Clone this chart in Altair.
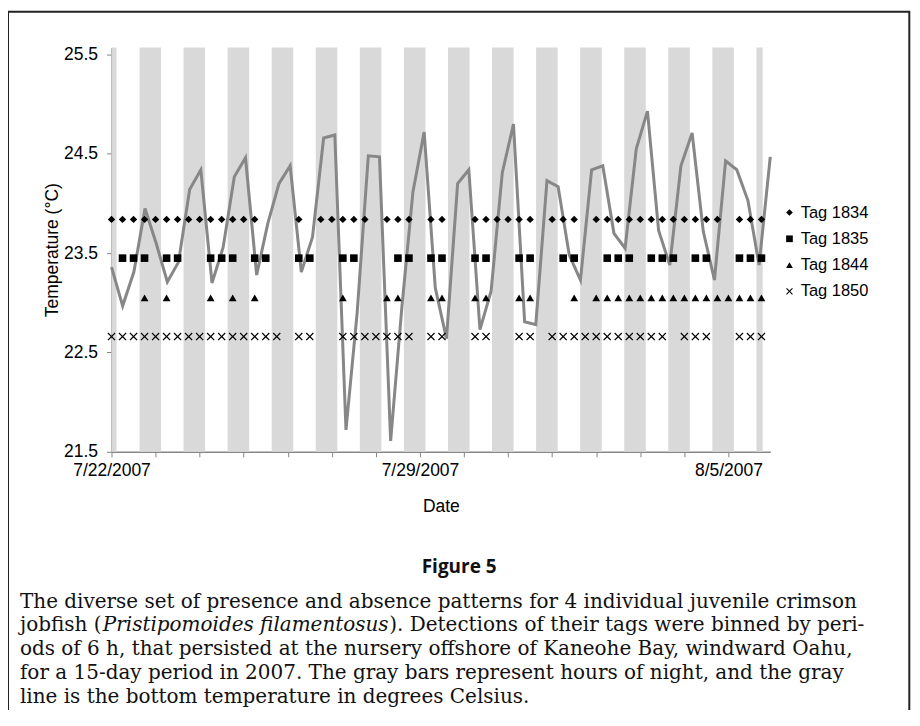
import altair as alt
import pandas as pd

# ---------------- data ----------------
window_start = "2007-07-22 00:00"
window_end = "2007-08-05 22:48"

# bottom temperature (°C), 60 readings spread evenly across the window
temp_values = [23.36, 22.97, 23.31, 23.95, 23.60, 23.21, 23.41, 24.14, 24.34, 23.20,
               23.56, 24.27, 24.46, 23.28, 23.80, 24.20, 24.38, 23.31, 23.66, 24.66,
               24.69, 21.72, 22.90, 24.48, 24.47, 21.61, 22.95, 24.12, 24.72, 23.15,
               22.64, 24.20, 24.34, 22.73, 23.12, 24.31, 24.80, 22.81, 22.78, 24.23,
               24.17, 23.48, 23.23, 24.34, 24.38, 23.70, 23.55, 24.55, 24.93, 23.73,
               23.38, 24.38, 24.71, 23.72, 23.23, 24.43, 24.34, 24.03, 23.38, 24.47]

# night periods (gray bars)
night_start = ["2007-07-22 00:00", "2007-07-22 15:15", "2007-07-23 15:15", "2007-07-24 15:15",
               "2007-07-25 15:15", "2007-07-26 15:15", "2007-07-27 15:15", "2007-07-28 15:15",
               "2007-07-29 15:15", "2007-07-30 15:15", "2007-07-31 15:15", "2007-08-01 15:15",
               "2007-08-02 15:15", "2007-08-03 15:15", "2007-08-04 15:15", "2007-08-05 15:15"]
night_end = ["2007-07-22 02:45", "2007-07-23 03:00", "2007-07-24 03:00", "2007-07-25 03:00",
             "2007-07-26 03:00", "2007-07-27 03:00", "2007-07-28 03:00", "2007-07-29 03:00",
             "2007-07-30 03:00", "2007-07-31 03:00", "2007-08-01 03:00", "2007-08-02 03:00",
             "2007-08-03 03:00", "2007-08-04 03:00", "2007-08-05 03:00", "2007-08-05 18:40"]

# 6-h detection bins (index of bin since 7/22 00:00) for each tag
tags = ["Tag 1834", "Tag 1835", "Tag 1844", "Tag 1850"]
tag_levels = [23.84, 23.45, 23.05, 22.66]
detect_1834 = [0, 1, 2, 3, 4, 5, 6, 7, 8, 9, 10, 11, 12, 13, 17, 19, 20, 21, 22, 23,
               25, 26, 27, 29, 30, 33, 34, 35, 36, 37, 38, 40, 41, 42, 44, 45, 46, 47,
               48, 49, 50, 51, 52, 53, 54, 55, 57, 58, 59]
detect_1835 = [1, 2, 3, 5, 6, 9, 10, 11, 13, 14, 17, 18, 21, 22, 26, 27, 29, 30, 33, 34,
               37, 38, 41, 42, 45, 46, 47, 49, 50, 51, 53, 54, 57, 58, 59]
detect_1844 = [3, 5, 9, 11, 13, 21, 25, 26, 29, 30, 33, 34, 37, 38, 42, 44, 45, 46, 47,
               48, 49, 50, 51, 52, 53, 54, 55, 56, 57, 58, 59]
detect_1850 = [0, 1, 2, 3, 4, 5, 6, 7, 8, 9, 10, 11, 12, 13, 14, 15, 17, 18, 21, 22, 23,
               24, 25, 26, 27, 29, 30, 33, 34, 37, 38, 40, 41, 42, 43, 44, 45, 46, 47,
               48, 49, 50, 52, 53, 54, 57, 58, 59]

y_ticks = [21.5, 22.5, 23.5, 24.5, 25.5]
x_labels = ["7/22/2007", "7/29/2007", "8/5/2007"]

fig_title = "Figure 5"
caption_lines = [
    "The diverse set of presence and absence patterns for 4 individual juvenile crimson",
    None,
    "ods of 6 h, that persisted at the nursery offshore of Kaneohe Bay, windward Oahu,",
    "for a 15-day period in 2007. The gray bars represent hours of night, and the gray",
    "line is the bottom temperature in degrees Celsius.",
]
caption_l2 = ["jobfish (", "Pristipomoides filamentosus", ").  Detections of their tags were binned by peri-"]

# ---------------- tables ----------------
bins = pd.date_range(window_start, periods=60, freq="6h")
rows = []
for tag, level, idx in zip(tags, tag_levels, [detect_1834, detect_1835, detect_1844, detect_1850]):
    for i in idx:
        rows.append({"time": bins[i], "temp": level, "tag": tag})
marker_df = pd.DataFrame(rows)
line_df = pd.DataFrame({"time": pd.date_range(window_start, window_end, periods=60), "temp": temp_values})
night_df = pd.DataFrame({"start": pd.to_datetime(night_start), "end": pd.to_datetime(night_end)})

days = pd.date_range("2007-07-22", "2007-08-05", freq="D")
day_values = [alt.DateTime(year=d.year, month=d.month, date=d.day) for d in days]
ws = pd.Timestamp(window_start)
we = pd.Timestamp(window_end)
x_scale = alt.Scale(domain=[alt.DateTime(year=ws.year, month=ws.month, date=ws.day, hours=ws.hour, minutes=ws.minute),
                            alt.DateTime(year=we.year, month=we.month, date=we.day, hours=we.hour, minutes=we.minute)])
y_scale = alt.Scale(domain=[21.5, 25.57], nice=False, zero=False)

W, H = 660, 405
AXIS_GRAY = "#868686"
FONT = "Liberation Sans"

label_list = "[" + ",".join("'%s'" % s for s in x_labels) + "]"
x_axis = alt.Axis(values=day_values, title="Date", grid=False,
                  labelExpr=f"indexof({label_list}, timeFormat(datum.value, '%-m/%-d/%Y')) >= 0 ? timeFormat(datum.value, '%-m/%-d/%Y') : ''",
                  labelOverlap=False, labelFlush=False, domainColor=AXIS_GRAY, domainWidth=1.5,
                  tickColor=AXIS_GRAY, tickSize=5, tickWidth=1, labelFont=FONT, labelFontSize=17.5,
                  labelColor="black", labelPadding=5, titleFont=FONT, titleFontSize=17.5,
                  titleFontWeight="normal", titleColor="black", titlePadding=18)
y_axis = alt.Axis(values=y_ticks, format=".1f", title="Temperature (°C)", grid=False,
                  domainColor=AXIS_GRAY, domainWidth=1.5, tickColor=AXIS_GRAY, tickSize=5,
                  labelFont=FONT, labelFontSize=17.5, labelColor="black", labelPadding=9,
                  titleFont=FONT, titleFontSize=17.5, titleFontWeight="normal", titleColor="black",
                  titlePadding=2)

nights = alt.Chart(night_df).mark_rect(color="#d9d9d9").encode(
    x=alt.X("start:T", scale=x_scale, axis=x_axis),
    x2="end:T",
    y=alt.value(0), y2=alt.value(H),
)

temp_line = alt.Chart(line_df).mark_line(color="#878787", strokeWidth=3).encode(
    x=alt.X("time:T", scale=x_scale),
    y=alt.Y("temp:Q", scale=y_scale, axis=y_axis),
)

x_path = "M-1,-0.78L-0.78,-1L0,-0.22L0.78,-1L1,-0.78L0.22,0L1,0.78L0.78,1L0,0.22L-0.78,1L-1,0.78L-0.22,0Z"
markers = alt.Chart(marker_df).mark_point(filled=True, opacity=1, color="black").encode(
    x=alt.X("time:T", scale=x_scale),
    y=alt.Y("temp:Q", scale=y_scale),
    shape=alt.Shape("tag:N", scale=alt.Scale(domain=tags, range=["diamond", "square", "triangle-up", x_path]),
                    legend=alt.Legend(title=None, orient="none", legendX=671, legendY=157,
                                      labelFont=FONT, labelFontSize=16.5, labelColor="black",
                                      rowPadding=9.3, symbolSize=45, symbolFillColor="black",
                                      symbolStrokeWidth=0, labelOffset=3)),
    size=alt.Size("tag:N", scale=alt.Scale(domain=tags, range=[55, 64, 60, 50]), legend=None),
)

one = pd.DataFrame({"k": [0]})
def text_layer(txt, x, y, **kw):
    return alt.Chart(one).mark_text(text=txt, **kw).encode(x=alt.value(x), y=alt.value(y))

OX, OY = 111.7, 47  # page position of the plot origin
CAP = 20
cap_kw = dict(font="DejaVu Serif", fontSize=CAP, align="left", baseline="middle", color="#111")
cap_layers = [text_layer(fig_title, 460 - OX, 567 - OY, font="Open Sans", fontSize=19,
                         fontWeight="bold", align="center", baseline="middle", color="#111")]
cap_y = [602, 626, 650, 674, 698]
for line, yy in zip(caption_lines, cap_y):
    if line is not None:
        cap_layers.append(text_layer(line, 20 - OX, yy - OY, **cap_kw))
cap_layers.append(text_layer(caption_l2[0], 20 - OX, 626 - OY, **cap_kw))
cap_layers.append(text_layer(caption_l2[1], 103 - OX, 626 - OY, fontStyle="italic", **cap_kw))
cap_layers.append(text_layer(caption_l2[2], 390 - OX, 626 - OY, **cap_kw))

frame = alt.Chart(one).mark_rect(fill="white", fillOpacity=0, stroke="#222", strokeWidth=2).encode(
    x=alt.value(8 - OX), x2=alt.value(911 - OX), y=alt.value(11 - OY), y2=alt.value(713 - OY))

chart = alt.layer(nights, temp_line, markers, frame, *cap_layers).properties(
    width=W, height=H,
    autosize=alt.AutoSizeParams(type="none"),
    padding={"left": OX - 8, "top": OY - 8, "right": 142, "bottom": 258},
).configure_view(strokeWidth=0).resolve_scale(shape="independent")

chart.save("out.html", embed_options={"renderer": "svg", "actions": False})
